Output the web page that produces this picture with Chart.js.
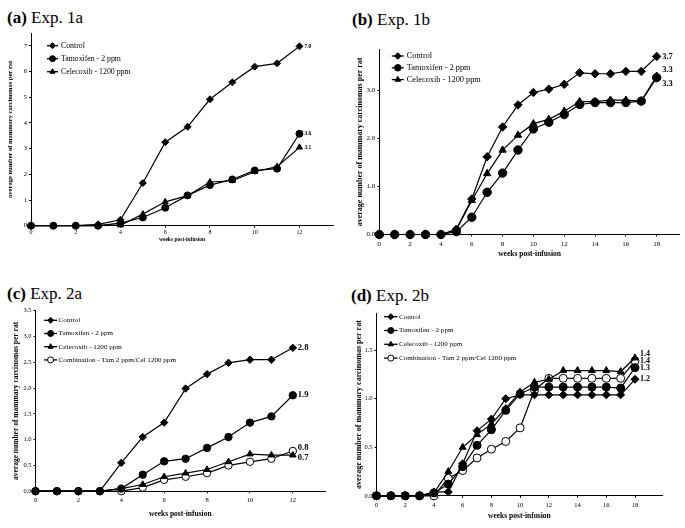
<!DOCTYPE html>
<html>
<head>
<meta charset="utf-8">
<script src="https://cdn.jsdelivr.net/npm/chart.js@4"></script>
<style>
  html, body { margin: 0; padding: 0; background: #fff; }
  body { position: relative; width: 685px; height: 528px; overflow: hidden; }
  canvas { position: absolute; }
  .ttl { position: absolute; font-family: 'Liberation Serif', serif; font-size: 17px; line-height: 1; white-space: nowrap; color: #000; }
  .ttl b { font-weight: bold; }
</style>
</head>
<body>
<div class="ttl" style="left:7px; top:9px"><b>(a)</b> Exp. 1a</div>
<div class="ttl" style="left:352px; top:11px"><b>(b)</b> Exp. 1b</div>
<div class="ttl" style="left:7px; top:285px"><b>(c)</b> Exp. 2a</div>
<div class="ttl" style="left:351px; top:287px"><b>(d)</b> Exp. 2b</div>

<canvas id="chartA" width="334" height="220" style="left:6px; top:23px"></canvas>
<canvas id="chartB" width="330" height="220" style="left:355px; top:39px"></canvas>
<canvas id="chartC" width="328" height="219" style="left:12px; top:300px"></canvas>
<canvas id="chartD" width="321" height="218" style="left:354px; top:303px"></canvas>

<script>
// series names and markers
const seriesNames = ['Control', 'Tamoxifen - 2 ppm', 'Celecoxib - 1200 ppm', 'Combination - Tam 2 ppm/Cel 1200 ppm'];
const pointStyles = ['rectRot', 'circle', 'triangle', 'circle'];
const pointFills = ['#000', '#000', '#000', '#fff'];

// Exp. 1a
const weeksA = [0, 1, 2, 3, 4, 5, 6, 7, 8, 9, 10, 11, 12];
const controlA = [0, 0, 0, 0.05, 0.23, 1.66, 3.25, 3.85, 4.92, 5.58, 6.19, 6.32, 6.98];
const tamoxifenA = [0, 0, 0, 0, 0.1, 0.32, 0.7, 1.18, 1.58, 1.8, 2.15, 2.22, 3.58];
const celecoxibA = [0, 0, 0, 0, 0.02, 0.45, 0.93, 1.17, 1.7, 1.75, 2.1, 2.3, 3.05];
const endLabelsA = ['7.0', '3.6', '3.1'];

// Exp. 1b
const weeksB = [0, 1, 2, 3, 4, 5, 6, 7, 8, 9, 10, 11, 12, 13, 14, 15, 16, 17, 18];
const controlB = [0, 0, 0, 0, 0, 0.11, 0.74, 1.62, 2.24, 2.70, 2.96, 3.03, 3.13, 3.37, 3.35, 3.35, 3.40, 3.40, 3.71];
const tamoxifenB = [0, 0, 0, 0, 0, 0.06, 0.36, 0.88, 1.28, 1.76, 2.20, 2.34, 2.50, 2.71, 2.75, 2.75, 2.75, 2.78, 3.27];
const celecoxibB = [0, 0, 0, 0, 0, 0.1, 0.71, 1.27, 1.76, 2.07, 2.31, 2.40, 2.57, 2.77, 2.77, 2.80, 2.80, 2.78, 3.30];
const endLabelsB = ['3.7', '3.3', '3.3'];

// Exp. 2a
const weeksC = [0, 1, 2, 3, 4, 5, 6, 7, 8, 9, 10, 11, 12];
const controlC = [0, 0, 0, 0, 0.55, 1.05, 1.33, 1.99, 2.27, 2.49, 2.55, 2.55, 2.78];
const tamoxifenC = [0, 0, 0, 0, 0.05, 0.32, 0.58, 0.63, 0.84, 1.05, 1.33, 1.45, 1.86];
const celecoxibC = [0, 0, 0, 0, 0.05, 0.13, 0.28, 0.35, 0.42, 0.57, 0.72, 0.7, 0.7];
const combinationC = [0, 0, 0, 0, 0, 0.07, 0.22, 0.28, 0.35, 0.5, 0.57, 0.63, 0.78];
const endLabelsC = ['2.8', '1.9', '0.7', '0.8'];

// Exp. 2b
const weeksD = [0, 1, 2, 3, 4, 5, 6, 7, 8, 9, 10, 11, 12, 13, 14, 15, 16, 17, 18];
const controlD = [0, 0, 0, 0, 0.04, 0.04, 0.33, 0.67, 0.79, 1.0, 1.04, 1.04, 1.04, 1.04, 1.04, 1.04, 1.04, 1.04, 1.2];
const tamoxifenD = [0, 0, 0, 0, 0.03, 0.12, 0.3, 0.52, 0.68, 0.88, 1.05, 1.12, 1.12, 1.12, 1.12, 1.12, 1.12, 1.11, 1.32];
const celecoxibD = [0, 0, 0, 0, 0.03, 0.25, 0.5, 0.63, 0.74, 0.9, 1.07, 1.17, 1.2, 1.29, 1.29, 1.29, 1.29, 1.28, 1.42];
const combinationD = [0, 0, 0, 0, 0, 0.18, 0.26, 0.39, 0.48, 0.56, 0.7, 1.09, 1.21, 1.21, 1.21, 1.21, 1.21, 1.21, 1.39];
const endLabelsD = ['1.2', '1.3', '1.4', '1.4'];

const SERIF = "'Liberation Serif', serif";
const yTitle = 'average number of mammary carcinomas per rat';
const xTitle = 'weeks post-infusion';

// legend drawn inside the plot area, top left
const insideLegend = {
    id: 'insideLegend',
    afterDatasetsDraw(chart, args, opts) {
        const ctx = chart.ctx;
        const area = chart.chartArea;
        ctx.save();
        chart.data.datasets.forEach((ds, i) => {
            const x = area.left + opts.x;
            const y = area.top + opts.y + i * opts.gap;
            ctx.strokeStyle = '#000';
            ctx.lineWidth = 1.3;
            ctx.beginPath();
            ctx.moveTo(x, y);
            ctx.lineTo(x + opts.len, y);
            ctx.stroke();
            ctx.fillStyle = ds.pointBackgroundColor;
            ctx.lineWidth = 1;
            Chart.helpers.drawPoint(ctx, {pointStyle: ds.pointStyle, radius: opts.radius, borderWidth: 1}, x + opts.len / 2, y);
            ctx.fillStyle = '#000';
            ctx.font = opts.font;
            ctx.textBaseline = 'middle';
            ctx.textAlign = 'left';
            ctx.fillText(ds.label, x + opts.len + opts.textGap, y);
        });
        ctx.restore();
    }
};

// value written next to the last point of each series
const endLabels = {
    id: 'endLabels',
    afterDatasetsDraw(chart, args, opts) {
        const ctx = chart.ctx;
        ctx.save();
        ctx.font = opts.font;
        ctx.fillStyle = '#000';
        ctx.textBaseline = 'middle';
        ctx.textAlign = 'left';
        chart.data.datasets.forEach((ds, i) => {
            const meta = chart.getDatasetMeta(i);
            const pt = meta.data[meta.data.length - 1];
            ctx.fillText(opts.labels[i], pt.x + opts.dx, pt.y + (opts.dy[i] || 0));
        });
        ctx.restore();
    }
};

function makeChart(id, weeks, series, c) {
    const datasets = series.map((vals, i) => ({
        label: seriesNames[i],
        data: weeks.map((w, j) => ({x: w, y: vals[j]})),
        borderColor: '#000',
        borderWidth: 1.2,
        pointStyle: pointStyles[i],
        pointRadius: c.radius,
        pointBackgroundColor: pointFills[i],
        pointBorderColor: '#000',
        pointBorderWidth: 1,
        tension: 0,
        fill: false,
        clip: false
    }));

    new Chart(document.getElementById(id), {
        type: 'line',
        data: {datasets: datasets},
        plugins: [insideLegend, endLabels],
        options: {
            responsive: false,
            animation: false,
            events: [],
            layout: {padding: {top: c.padTop, right: c.padRight, bottom: 0, left: 0}},
            plugins: {
                legend: {display: false},
                tooltip: {enabled: false},
                insideLegend: c.legend,
                endLabels: c.ends
            },
            scales: {
                x: {
                    type: 'linear',
                    min: 0,
                    max: c.xMax,
                    border: {color: '#000', width: 1},
                    grid: {drawOnChartArea: false, drawTicks: true, tickLength: 2, color: '#000'},
                    ticks: {stepSize: 2, includeBounds: false, color: '#000', padding: c.xTickPad, maxRotation: 0,
                            font: {family: SERIF, size: c.tickSize}},
                    title: {display: true, text: xTitle, color: '#000', padding: 0,
                            font: {family: SERIF, size: c.xTitleSize, weight: 'bold', lineHeight: 1.2}},
                    afterFit(s) { s.height = c.xAxisH; }
                },
                y: {
                    type: 'linear',
                    z: c.yZ || 0,
                    min: 0,
                    max: c.yMax,
                    border: {color: '#000', width: 1},
                    grid: {drawOnChartArea: false, drawTicks: true, tickLength: 2, color: '#000'},
                    ticks: {stepSize: c.yStep, includeBounds: false, autoSkip: false, color: '#000', padding: 2,
                            font: {family: SERIF, size: c.yTickSize || c.tickSize},
                            callback: v => c.decimals ? v.toFixed(1) : v.toFixed(0)},
                    title: {display: true, text: yTitle, color: '#000', padding: 0,
                            font: {family: SERIF, size: c.yTitleSize, weight: 'bold', lineHeight: 1.2}},
                    afterFit(s) { s.width = c.yAxisW; }
                }
            }
        }
    });
}

makeChart('chartA', weeksA, [controlA, tamoxifenA, celecoxibA], {
    radius: 3.5, padTop: 10, padRight: 7, xMax: 13.5, yMax: 7.5, yStep: 1, decimals: false, yZ: 1,
    tickSize: 6, yTickSize: 6.5, xTickPad: 1, xTitleSize: 5.5, yTitleSize: 6.5, xAxisH: 17.3, yAxisW: 25,
    legend: {x: 16, y: 12.7, gap: 13, len: 11, textGap: 3, radius: 3, font: "7.8px " + SERIF},
    ends: {labels: endLabelsA, dx: 5, dy: [0, 0, 0], font: "bold 5.5px " + SERIF}
});

makeChart('chartB', weeksB, [controlB, tamoxifenB, celecoxibB], {
    radius: 4.2, padTop: 10.3, padRight: 0, xMax: 19.5, yMax: 3.86, yStep: 1, decimals: true,
    tickSize: 7, xTickPad: 3, xTitleSize: 7.5, yTitleSize: 8, xAxisH: 24.5, yAxisW: 24.3,
    legend: {x: 12.5, y: 6.7, gap: 11.8, len: 12, textGap: 3, radius: 3.3, font: "8.3px " + SERIF},
    ends: {labels: endLabelsB, dx: 5.5, dy: [0, 6, -6], font: "bold 8.5px " + SERIF}
});

makeChart('chartC', weeksC, [controlC, tamoxifenC, celecoxibC, combinationC], {
    radius: 3.7, padTop: 10.7, padRight: 15, xMax: 13.5, yMax: 3.5, yStep: 0.5, decimals: true,
    tickSize: 6.5, xTickPad: 3, xTitleSize: 7.5, yTitleSize: 7.5, xAxisH: 27.8, yAxisW: 23.5,
    legend: {x: 8.6, y: 9.6, gap: 13.2, len: 13, textGap: 1.5, radius: 3, font: "7.1px " + SERIF},
    ends: {labels: endLabelsC, dx: 5, dy: [0, 0, 3, -3], font: "bold 8.5px " + SERIF}
});

makeChart('chartD', weeksD, [controlD, tamoxifenD, celecoxibD, combinationD], {
    radius: 4, padTop: 10.3, padRight: 12.7, xMax: 19.9, yMax: 1.88, yStep: 0.5, decimals: true,
    tickSize: 6.5, xTickPad: 4, xTitleSize: 7.5, yTitleSize: 8, xAxisH: 25.2, yAxisW: 22.5,
    legend: {x: 7.6, y: 3.4, gap: 13.8, len: 13.4, textGap: 1.5, radius: 3, font: "7.1px " + SERIF},
    ends: {labels: endLabelsD, dx: 5, dy: [0, 0, -4, 0], font: "bold 8px " + SERIF}
});
</script>
</body>
</html>
